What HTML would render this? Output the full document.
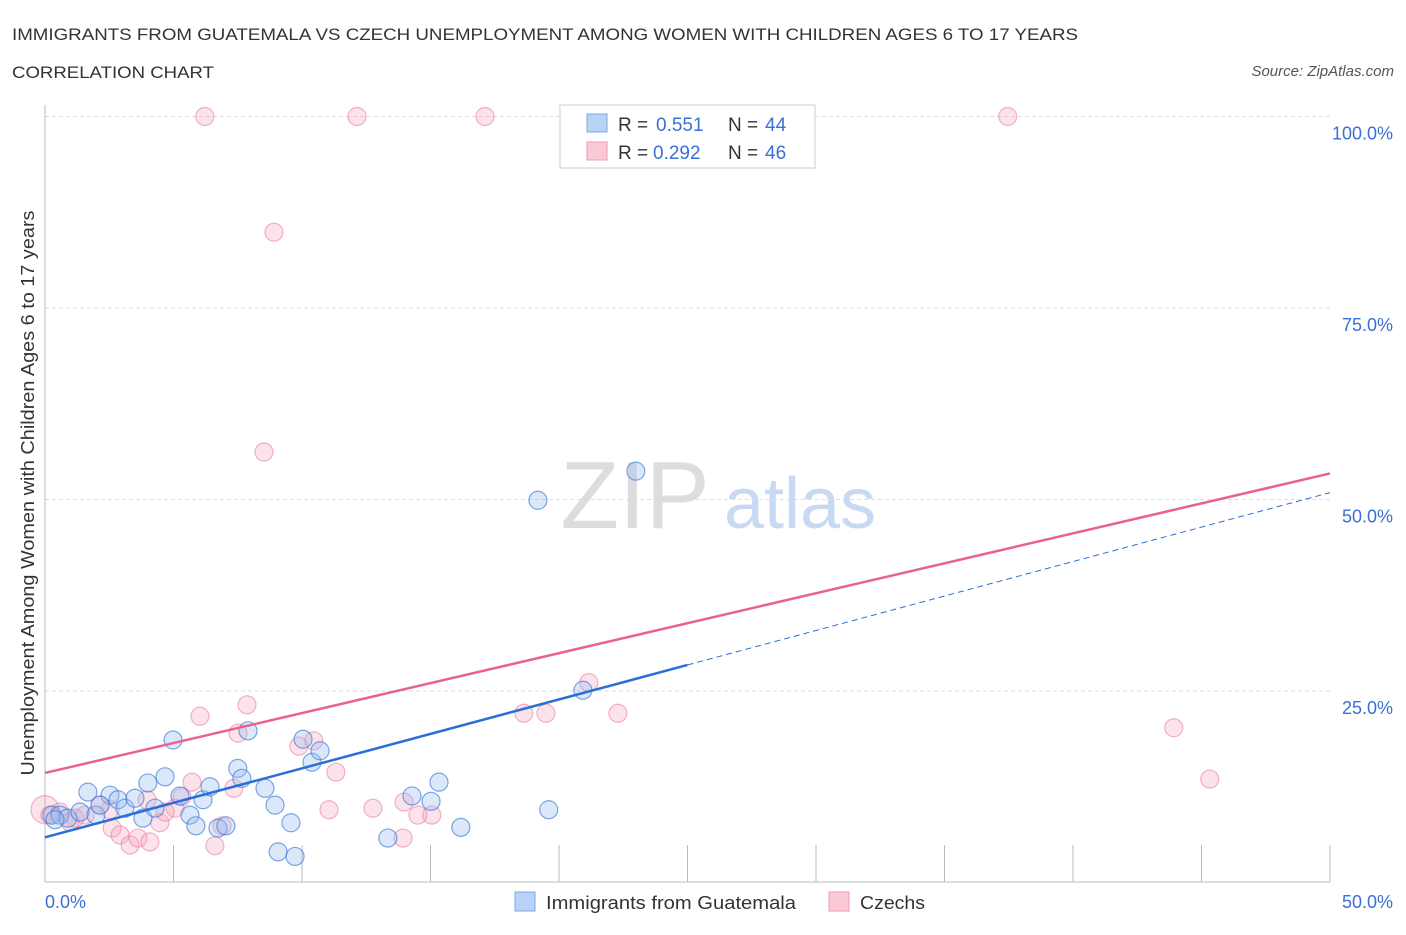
<!DOCTYPE html>
<html><head><meta charset="utf-8"><style>
body{margin:0;background:#fff;font-family:"Liberation Sans",sans-serif;}
svg text{font-family:"Liberation Sans",sans-serif;}
</style></head><body>
<svg id="c" width="1406" height="930">
<text x="12" y="40" font-size="17" fill="#333" textLength="1066" lengthAdjust="spacingAndGlyphs">IMMIGRANTS FROM GUATEMALA VS CZECH UNEMPLOYMENT AMONG WOMEN WITH CHILDREN AGES 6 TO 17 YEARS</text>
<text x="12" y="78" font-size="17" fill="#333" textLength="202" lengthAdjust="spacingAndGlyphs">CORRELATION CHART</text>
<text x="1394" y="76" font-size="15" fill="#555" font-style="italic" text-anchor="end">Source: ZipAtlas.com</text>
<text x="635" y="528" font-size="96" fill="#ddd" text-anchor="middle" font-family="Liberation Serif">ZIP</text>
<text x="800" y="528" font-size="72" fill="#c8daf2" text-anchor="middle">atlas</text>
<text x="34" y="493" font-size="18" fill="#333" text-anchor="middle" textLength="565" lengthAdjust="spacingAndGlyphs" transform="rotate(-90 34 493)">Unemployment Among Women with Children Ages 6 to 17 years</text>
<g id="grid"></g><g id="pts"></g><g id="lines"></g>
<g>
<rect x="560" y="105" width="255" height="63" fill="#fff" stroke="#ccc"/>
<rect x="587" y="114" width="20" height="18" fill="#b8d3f5" stroke="#7aa8e8"/>
<rect x="587" y="142" width="20" height="18" fill="#f9c9d6" stroke="#ee9ab2"/>
<text x="618" y="131" font-size="19" fill="#333">R =</text><text x="656" y="131" font-size="19" fill="#3a6fd8">0.551</text>
<text x="728" y="131" font-size="19" fill="#333">N =</text><text x="765" y="131" font-size="19" fill="#3a6fd8">44</text>
<text x="618" y="159" font-size="19" fill="#333">R =</text><text x="653" y="159" font-size="19" fill="#3a6fd8">0.292</text>
<text x="728" y="159" font-size="19" fill="#333">N =</text><text x="765" y="159" font-size="19" fill="#3a6fd8">46</text>
</g>
<g>
<rect x="515" y="892" width="20" height="19" fill="#b8d3f5" stroke="#7aa8e8"/>
<text x="546" y="909" font-size="18" fill="#333" textLength="250" lengthAdjust="spacingAndGlyphs">Immigrants from Guatemala</text>
<rect x="829" y="892" width="20" height="19" fill="#f9c9d6" stroke="#ee9ab2"/>
<text x="860" y="909" font-size="18" fill="#333" textLength="65" lengthAdjust="spacingAndGlyphs">Czechs</text>
</g>
</svg>
<script>
const blueX=[0.27,0.58,0.89,1.36,1.67,1.98,2.53,2.84,3.11,3.5,3.81,4.0,4.28,4.67,4.98,5.25,5.64,5.87,6.15,6.42,6.73,7.04,7.5,7.66,7.9,8.56,8.95,9.07,9.57,9.73,10.04,10.39,10.7,13.34,14.28,15.02,15.33,16.18,19.18,19.6,20.93,22.99,0.39,2.14];
const blueY=[8.8,8.8,8.4,9.2,11.8,8.8,11.4,10.8,9.7,11.0,8.4,13.0,9.7,13.8,18.6,11.3,8.8,7.4,10.8,12.5,7.1,7.4,14.9,13.6,19.8,12.3,10.1,4.0,7.8,3.4,18.7,15.7,17.2,5.8,11.3,10.6,13.1,7.2,49.9,9.5,25.1,53.7,8.2,10.1];
const pinkX=[0,0.19,0.58,1.17,1.56,2.14,2.61,2.92,3.31,3.62,4.08,3.97,4.47,5.06,5.33,5.72,6.03,6.22,6.61,6.89,7.35,7.51,7.86,8.52,8.91,9.88,10.46,11.05,11.32,12.14,12.76,13.97,14.51,13.93,15.05,17.12,18.63,19.49,21.16,22.29,37.46,43.92,45.32,0.97,2.53,4.67];
const pinkY=[9.5,8.8,9.2,8.4,8.8,10.1,7.1,6.2,4.9,5.8,5.3,10.8,7.8,9.7,11.2,13.1,21.7,100,4.8,7.4,12.3,19.5,23.2,56.2,84.9,17.8,18.5,9.5,14.4,100,9.7,10.5,8.8,5.8,8.8,100,22.1,22.1,26.1,22.1,100,20.2,13.5,7.9,9.5,9.2];
const yTicks=[25,50,75,100];
const yTickLabels=["25.0%","50.0%","75.0%","100.0%"];
const blueTrend=[5.9,50.9];const pinkTrend=[14.3,53.4];
const NS="http://www.w3.org/2000/svg";
const sx=v=>45+v/50*1285, sy=v=>882.5-v/100*766;
function mk(t,a,p){const e=document.createElementNS(NS,t);for(const k in a)e.setAttribute(k,a[k]);p.appendChild(e);return e;}
const grid=document.getElementById('grid');
yTicks.forEach((t,i)=>{
 const l=mk('line',{x1:45,x2:1330,y1:sy(t),y2:sy(t),stroke:'#ddd','stroke-dasharray':'4,3'},grid);
 
 
 const tx=mk('text',{x:1393,y:sy(t)+23,'font-size':18,fill:'#3a6fd8','text-anchor':'end'},grid);
 tx.textContent=yTickLabels[i];
 
 
});
const ax=mk('line',{x1:45,x2:45,y1:105,y2:882,stroke:'#bbb'},grid);


const xa=mk('line',{x1:45,x2:1330,y1:882,y2:882,stroke:'#bbb'},grid);


for(let i=0;i<=10;i++){const t=mk('line',{x1:sx(i*5),x2:sx(i*5),y1:845,y2:882,stroke:'#bbb'},grid);
 
 }
const xl0=mk('text',{x:45,y:908,'font-size':18,fill:'#3a6fd8'},grid);xl0.textContent='0.0%';


const xl1=mk('text',{x:1393,y:908,'font-size':18,fill:'#3a6fd8','text-anchor':'end'},grid);xl1.textContent='50.0%';


const pts=document.getElementById('pts');
pinkX.forEach((x,i)=>{const c=mk('circle',{cx:sx(x),cy:sy(pinkY[i]),r:(i==0?14:9),fill:'rgba(244,160,186,0.3)',stroke:'rgba(232,120,155,0.55)','stroke-width':1.2},pts);
 
 });
blueX.forEach((x,i)=>{const c=mk('circle',{cx:sx(x),cy:sy(blueY[i]),r:9,fill:'rgba(150,190,240,0.35)',stroke:'rgba(60,120,215,0.65)','stroke-width':1.2},pts);
 
 });
const lines=document.getElementById('lines');
const by=x=>blueTrend[0]+(blueTrend[1]-blueTrend[0])*x/50;
const l1=mk('line',{x1:sx(0),y1:sy(by(0)),x2:sx(25),y2:sy(by(25)),stroke:'#2a6fd6','stroke-width':2.5},lines);


const l2=mk('line',{x1:sx(25),y1:sy(by(25)),x2:sx(50),y2:sy(by(50)),stroke:'#2a6fd6','stroke-width':1,'stroke-dasharray':'6,4'},lines);


const l3=mk('line',{x1:sx(0),y1:sy(pinkTrend[0]),x2:sx(50),y2:sy(pinkTrend[1]),stroke:'#e8628e','stroke-width':2.5},lines);


</script>
</body></html>
